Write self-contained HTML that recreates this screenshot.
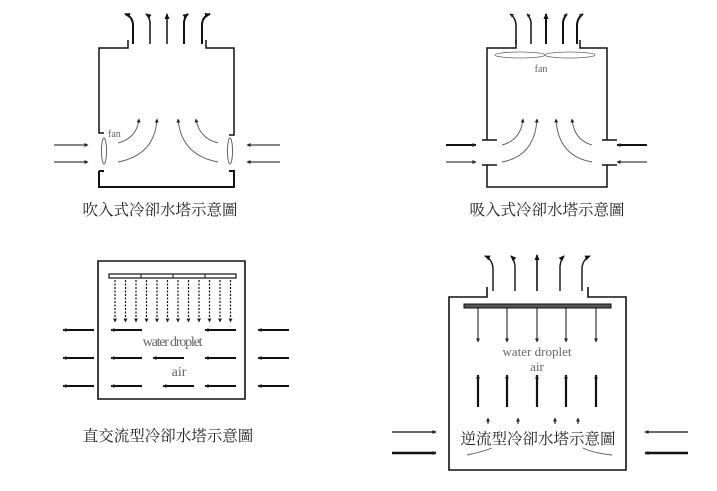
<!DOCTYPE html>
<html><head><meta charset="utf-8"><style>
html,body{margin:0;padding:0;background:#fff}
svg{display:block}
.cj{font-family:"Liberation Serif","Noto Serif CJK SC","Noto Serif CJK TC",serif;font-size:15.5px;fill:#222}
.en{font-family:"Liberation Serif",serif;fill:#666}
</style></head><body>
<svg width="717" height="491" viewBox="0 0 717 491" xmlns="http://www.w3.org/2000/svg">
<defs>
<marker id="a" markerWidth="6" markerHeight="6" refX="5" refY="3" orient="auto" markerUnits="userSpaceOnUse"><path d="M0,0.5 L6,3 L0,5.5 z" fill="#111"/></marker>
<marker id="s" markerWidth="4" markerHeight="4" refX="3.5" refY="2" orient="auto" markerUnits="userSpaceOnUse"><path d="M0,0 L4,2 L0,4 z" fill="#222"/></marker>
</defs>
<g fill="none" stroke="#111" stroke-width="1.5">
<!-- Top-left tower -->
<path d="M128,40 V48 H99 V133 H104"/>
<path d="M206,40 V48 H234 V135 H229"/>
<path d="M99,171 H104 M99,171 V187 H234 V171 H229" stroke-width="2"/>
<path d="M133,44 V24 Q132,16 125,14" marker-end="url(#a)" stroke-width="2"/>
<path d="M150,44 V22 Q149,16 146,14" marker-end="url(#a)"/>
<path d="M167,44 V14" marker-end="url(#a)"/>
<path d="M184,44 V22 Q185,16 188,14" marker-end="url(#a)" stroke-width="2"/>
<path d="M202,44 V24 Q203,16 210,14" marker-end="url(#a)" stroke-width="2"/>
<path d="M54,145 H88" stroke-width="1" marker-end="url(#s)"/>
<path d="M54,162 H88" stroke-width="1" marker-end="url(#s)"/>
<path d="M280,145 H247" stroke-width="1" marker-end="url(#s)"/>
<path d="M280,162 H247" stroke-width="1" marker-end="url(#s)"/>
<g stroke="#555" stroke-width="0.9">
<ellipse cx="104" cy="151" rx="2.5" ry="13"/>
<ellipse cx="230" cy="151" rx="2.5" ry="13"/>
<path d="M118,143 Q137,138 139,119" marker-end="url(#s)"/>
<path d="M118,162 Q155,155 157,119" marker-end="url(#s)"/>
<path d="M218,143 Q199,138 196,119" marker-end="url(#s)"/>
<path d="M218,162 Q181,155 178,119" marker-end="url(#s)"/>
</g>
<!-- Top-right tower -->
<path d="M516,40 V48 H487 V140 M482,140 H497"/>
<path d="M580,40 V48 H607 V140 M602,140 H617"/>
<path d="M482,165 H497 M487,165 V187 H607 V165 M602,165 H617"/>
<g stroke="#666" stroke-width="0.8"><ellipse cx="520" cy="55" rx="25" ry="3"/><ellipse cx="570" cy="55" rx="25" ry="3"/></g>
<path d="M516,44 V24 Q515,17 510,14" marker-end="url(#s)"/>
<path d="M531,44 V22 Q530,17 527,14" marker-end="url(#s)"/>
<path d="M546,44 V14" marker-end="url(#a)" stroke-width="2"/>
<path d="M563,44 V22 Q564,17 567,14" marker-end="url(#s)" stroke-width="2"/>
<path d="M577,44 V24 Q578,17 583,14" marker-end="url(#s)" stroke-width="2"/>
<path d="M446,145 H476" stroke-width="2" marker-end="url(#s)"/>
<path d="M446,162 H476" stroke-width="1" marker-end="url(#s)"/>
<path d="M647,145 H617" stroke-width="2" marker-end="url(#s)"/>
<path d="M647,162 H617" stroke-width="1" marker-end="url(#s)"/>
<g stroke="#555" stroke-width="0.9">
<path d="M502,145 Q521,140 523,119" marker-end="url(#s)"/>
<path d="M502,162 Q535,156 537,119" marker-end="url(#s)"/>
<path d="M592,145 Q574,140 572,119" marker-end="url(#s)"/>
<path d="M592,162 Q558,156 556,119" marker-end="url(#s)"/>
</g>
<!-- Bottom-left crossflow -->
<path d="M98,261 H245 V399 H98 Z" stroke-width="1.6"/>
<rect x="109" y="274" width="127" height="4" stroke-width="1.2"/>
<path d="M141,274 V278 M173,274 V278 M205,274 V278" stroke-width="1"/>
<g stroke-width="1.2" stroke-dasharray="2,1.5" marker-end="url(#s)">
<path d="M115,280 V322"/><path d="M125.5,280 V322"/><path d="M136,280 V322"/><path d="M146.5,280 V322"/>
<path d="M157,280 V322"/><path d="M167.5,280 V322"/><path d="M178,280 V322"/><path d="M188.5,280 V322"/>
<path d="M199,280 V322"/><path d="M209.5,280 V322"/><path d="M220,280 V322"/><path d="M230.5,280 V322"/>
</g>
<g stroke-width="2" marker-end="url(#s)">
<path d="M94,330 H63"/><path d="M94,358 H63"/><path d="M94,386 H63"/>
<path d="M142,330 H111"/><path d="M142,358 H111"/><path d="M142,386 H111"/>
<path d="M184,358 H153"/><path d="M194,386 H163"/>
<path d="M236,330 H205"/><path d="M236,358 H205"/><path d="M236,386 H205"/>
<path d="M289,330 H258"/><path d="M289,358 H258"/><path d="M289,386 H258"/>
</g>
<!-- Bottom-right counterflow -->
<path d="M487,287 V297 H449 V470 H626 V297 H588 V287" stroke-width="1.6"/>
<rect x="464" y="304" width="147" height="4" fill="#555" stroke-width="1"/>
<g stroke-width="1" marker-end="url(#s)">
<path d="M478,308 V342"/><path d="M507,308 V342"/><path d="M537,308 V342"/><path d="M566,308 V342"/><path d="M596,308 V342"/>
</g>
<g stroke-width="2.2" marker-end="url(#s)">
<path d="M478,407 V375"/><path d="M507,407 V375"/><path d="M537,407 V375"/><path d="M566,407 V375"/><path d="M596,407 V375"/>
</g>
<path d="M493,291 V268 Q492,259 485,256" marker-end="url(#a)" stroke-width="1.4"/>
<path d="M515,291 V266 Q514,259 511,256" marker-end="url(#a)" stroke-width="1.4"/>
<path d="M537,291 V255" marker-end="url(#a)" stroke-width="1.6"/>
<path d="M560,291 V266 Q561,259 564,256" marker-end="url(#a)" stroke-width="1.4"/>
<path d="M582,291 V268 Q583,259 590,256" marker-end="url(#a)" stroke-width="1.4"/>
<g stroke-width="1" marker-end="url(#s)"><path d="M488,424 V418"/><path d="M518,424 V418"/><path d="M555,424 V418"/><path d="M578,424 V418"/></g>
<path d="M392,432 H436" stroke-width="1.2" marker-end="url(#s)"/>
<path d="M392,453 H436" stroke-width="2.4" marker-end="url(#s)"/>
<path d="M688,432 H645" stroke-width="1.2" marker-end="url(#s)"/>
<path d="M688,453 H645" stroke-width="2.4" marker-end="url(#s)"/>
<path d="M467,455 Q482,452 492,448 M583,448 Q593,453 612,455" stroke="#555" stroke-width="0.9"/>
</g>
<text class="en" x="108" y="137" font-size="10">fan</text>
<text class="en" x="541" y="72" font-size="10" text-anchor="middle">fan</text>
<text class="en" x="172" y="346" font-size="14" text-anchor="middle" letter-spacing="-1.2">water droplet</text>
<text class="en" x="179" y="376" font-size="14" text-anchor="middle">air</text>
<text class="en" x="537" y="356" font-size="13" text-anchor="middle">water droplet</text>
<text class="en" x="537" y="371" font-size="13" text-anchor="middle">air</text>
<text class="cj" x="160" y="215" text-anchor="middle">吹入式冷卻水塔示意圖</text>
<text class="cj" x="547" y="215" text-anchor="middle">吸入式冷卻水塔示意圖</text>
<text class="cj" x="168" y="441" text-anchor="middle">直交流型冷卻水塔示意圖</text>
<text class="cj" x="538" y="444" text-anchor="middle">逆流型冷卻水塔示意圖</text>
</svg>
</body></html>
